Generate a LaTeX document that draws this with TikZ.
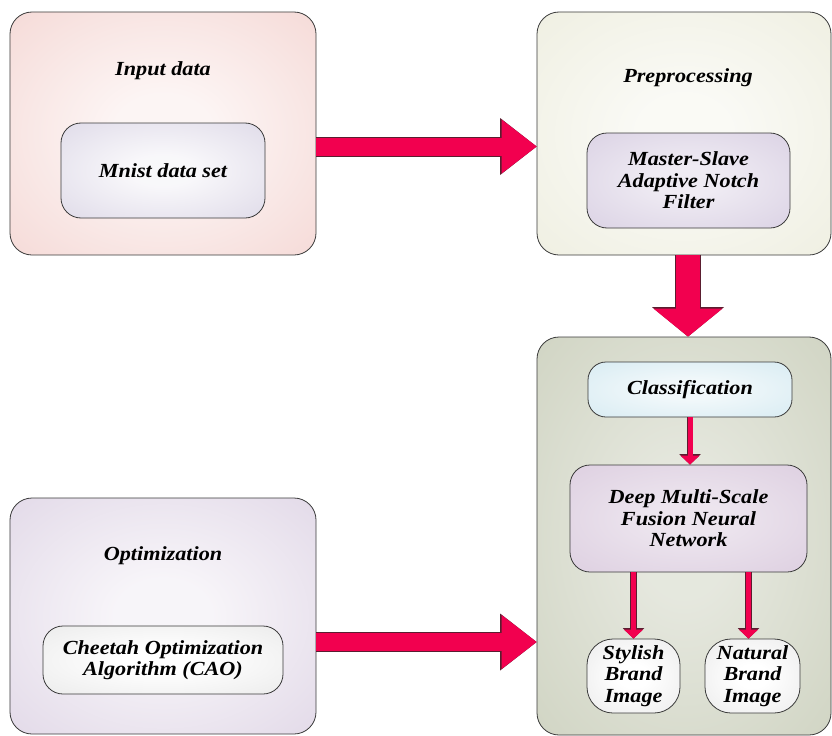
\documentclass[tikz,border=0pt]{standalone}
\usepackage{fontspec}
\setmainfont{Liberation Serif}[FakeStretch=1.11]
\usetikzlibrary{arrows.meta}
\usetikzlibrary{positioning}

\definecolor{flowred}{HTML}{F2004F}
\definecolor{flowedge}{HTML}{5A1E30}
\definecolor{boxedge}{HTML}{3A3A3A}
\definecolor{inpink}{HTML}{F2CDC9}
\definecolor{prebeige}{HTML}{EAEAD8}
\definecolor{resgreen}{HTML}{C6CBB6}
\definecolor{optlilac}{HTML}{D8CCE0}
\definecolor{mnistlilac}{HTML}{D3CDE0}
\definecolor{notchlilac}{HTML}{D1C6DD}
\definecolor{clsblue}{HTML}{CBE5EE}
\definecolor{dmsmauve}{HTML}{D6C5DA}
\definecolor{leafgrey}{HTML}{E2E2E2}
\colorlet{glowin}{white}
\colorlet{glowout}{gray}
\pgfdeclareradialshading[glowin,glowout]{boxglow}{\pgfpoint{0bp}{0bp}}{%
    color(0bp)=(glowin); color(8bp)=(glowin); color(50bp)=(glowout)}

\tikzset{
    glow/.style 2 args={
        /utils/exec={\colorlet{glowin}{#1}\colorlet{glowout}{#2}},
        shade, shading=boxglow,
    },
    stage/.style={
        rectangle, rounded corners=22bp, inner sep=0pt,
        draw=boxedge, line width=0.8bp,
    },
    part/.style={
        rectangle, rounded corners=20bp, inner sep=0pt, align=center,
        draw=boxedge, line width=0.8bp,
    },
    flow/.style={
        draw=flowred, line width=18bp,
        -{Triangle[length=35bp, width=54bp, line width=0pt]},
        preaction={draw=flowedge, line width=20bp,
            -{Triangle[length=36.5bp, width=57bp, line width=0pt]}},
    },
    dropflow/.style={
        draw=flowred, line width=24bp,
        -{Triangle[length=28bp, width=69bp, line width=0pt]},
        preaction={draw=flowedge, line width=26bp,
            -{Triangle[length=29.5bp, width=72bp, line width=0pt]}},
    },
    thinflow/.style={
        draw=flowred, line width=5bp,
        -{Triangle[length=9bp, width=19bp, line width=0pt]},
        preaction={draw=flowedge, line width=6.5bp,
            -{Triangle[length=10.5bp, width=21.5bp, line width=0pt]}},
    },
}

\begin{document}
\begin{tikzpicture}[
    x=1bp, y=-1bp,
    font=\fontsize{20bp}{21.5bp}\selectfont\bfseries\itshape,
]
    \useasboundingbox (0,0) rectangle (832,736);

    \node (inbox) at(163,133.5) [
        stage, minimum width=306bp, minimum height=243bp,
        glow={inpink!20!white}{inpink},
    ] {};
    \node (prebox) at(684,133.5) [
        stage, minimum width=294bp, minimum height=243bp,
        glow={prebeige!25!white}{prebeige},
    ] {};
    \node (resbox) at(684,536) [
        stage, minimum width=294bp, minimum height=398bp,
        glow={resgreen!45!white}{resgreen},
    ] {};
    \node (optbox) at(163,616) [
        stage, minimum width=306bp, minimum height=236bp,
        glow={optlilac!20!white}{optlilac},
    ] {};

    \node (intitle) at(163,71) {Input data};
    \node (pretitle) at(688,78) {Preprocessing};
    \node (opttitle) at(163,556) {Optimization};

    \node (mnist) at(163,170.5) [
        part, minimum width=204bp, minimum height=95bp,
        glow={mnistlilac!15!white}{mnistlilac},
    ] {Mnist data set};
    \node (notch) at(688.5,180.5) [
        part, minimum width=203bp, minimum height=95bp,
        glow={notchlilac!35!white}{notchlilac},
    ] {Master-Slave\\Adaptive Notch\\Filter};
    \node (classify) at(690,389.5) [
        part, rounded corners=18bp, minimum width=204bp, minimum height=55bp,
        glow={clsblue!25!white}{clsblue},
    ] {Classification};
    \node (dmsf) at(688.5,518.5) [
        part, minimum width=237bp, minimum height=107bp,
        glow={dmsmauve!45!white}{dmsmauve},
    ] {Deep Multi-Scale\\Fusion Neural\\Network};
    \node (stylish) at(633.5,676) [
        part, rounded corners=26bp, minimum width=93bp, minimum height=74bp,
        glow={white}{leafgrey},
    ] {Stylish\\Brand\\Image};
    \node (natural) at(752.5,676) [
        part, rounded corners=26bp, minimum width=95bp, minimum height=74bp,
        glow={white}{leafgrey},
    ] {Natural\\Brand\\Image};
    \node (cheetah) at(163,660) [
        part, minimum width=240bp, minimum height=68bp,
        glow={white}{leafgrey},
    ] {Cheetah Optimization\\Algorithm (CAO)};

    \draw [flow] ([yshift=-13bp]inbox.east) -- ([yshift=-13bp]prebox.west);
    \draw [dropflow] ([xshift=4bp]prebox.south) -- ([xshift=4bp]resbox.north);
    \coordinate (optout) at ([yshift=-26bp]optbox.east);
    \draw [flow] (optout) -- (optout -| resbox.west);

    \draw [thinflow] (classify.south) -- (classify.south |- dmsf.north);
    \draw [thinflow] (dmsf.south -| stylish.north) -- (stylish.north);
    \coordinate (natin) at ([xshift=-4bp]natural.north);
    \draw [thinflow] (dmsf.south -| natin) -- (natin);
\end{tikzpicture}
\end{document}
